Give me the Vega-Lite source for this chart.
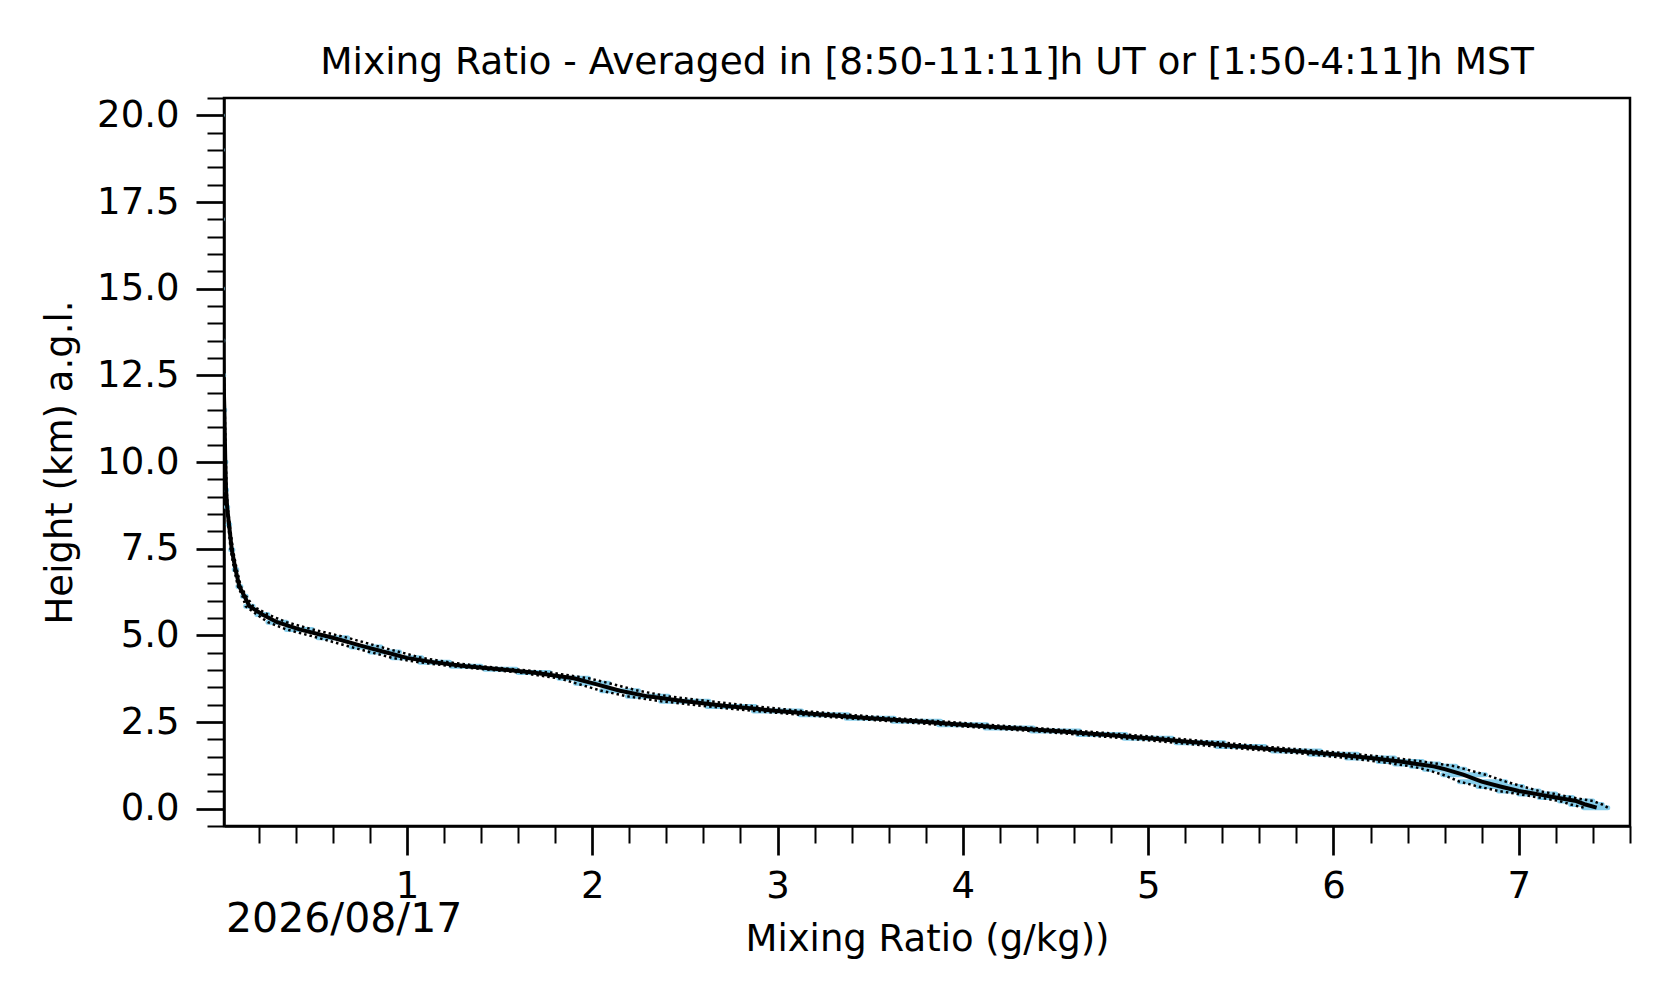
{
  "$schema": "https://vega.github.io/schema/vega-lite/v6.json",
  "description": "Mixing ratio profile averaged over the night, with its spread.",
  "autosize": {"type": "none"},
  "width": 1406,
  "height": 728,
  "padding": {"left": 224, "top": 98, "right": 46, "bottom": 177},
  "background": "white",
  "title": {
    "text": "Mixing Ratio - Averaged in [8:50-11:11]h UT or [1:50-4:11]h MST",
    "font": "DejaVu Sans",
    "fontSize": 37.5,
    "fontWeight": "normal",
    "color": "black",
    "anchor": "middle",
    "offset": -2
  },
  "data": {
    "values": [
      {"h": 0.03, "m": 7.42, "lo": 7.35, "hi": 7.48},
      {"h": 0.12, "m": 7.36, "lo": 7.28, "hi": 7.45},
      {"h": 0.22, "m": 7.31, "lo": 7.22, "hi": 7.40},
      {"h": 0.32, "m": 7.20, "lo": 7.11, "hi": 7.29},
      {"h": 0.42, "m": 7.10, "lo": 7.00, "hi": 7.20},
      {"h": 0.51, "m": 7.00, "lo": 6.89, "hi": 7.11},
      {"h": 0.64, "m": 6.90, "lo": 6.78, "hi": 7.02},
      {"h": 0.78, "m": 6.80, "lo": 6.68, "hi": 6.93},
      {"h": 0.98, "m": 6.70, "lo": 6.59, "hi": 6.82},
      {"h": 1.14, "m": 6.60, "lo": 6.49, "hi": 6.71},
      {"h": 1.22, "m": 6.54, "lo": 6.42, "hi": 6.66},
      {"h": 1.29, "m": 6.45, "lo": 6.33, "hi": 6.57},
      {"h": 1.36, "m": 6.36, "lo": 6.24, "hi": 6.48},
      {"h": 1.46, "m": 6.20, "lo": 6.07, "hi": 6.33},
      {"h": 1.57, "m": 6.00, "lo": 5.87, "hi": 6.13},
      {"h": 1.66, "m": 5.80, "lo": 5.67, "hi": 5.93},
      {"h": 1.79, "m": 5.50, "lo": 5.37, "hi": 5.63},
      {"h": 1.90, "m": 5.28, "lo": 5.15, "hi": 5.41},
      {"h": 2.03, "m": 5.00, "lo": 4.87, "hi": 5.13},
      {"h": 2.14, "m": 4.75, "lo": 4.62, "hi": 4.88},
      {"h": 2.24, "m": 4.50, "lo": 4.37, "hi": 4.63},
      {"h": 2.33, "m": 4.25, "lo": 4.12, "hi": 4.38},
      {"h": 2.42, "m": 4.00, "lo": 3.87, "hi": 4.13},
      {"h": 2.52, "m": 3.75, "lo": 3.62, "hi": 3.88},
      {"h": 2.61, "m": 3.50, "lo": 3.37, "hi": 3.63},
      {"h": 2.71, "m": 3.25, "lo": 3.12, "hi": 3.38},
      {"h": 2.82, "m": 3.00, "lo": 2.87, "hi": 3.13},
      {"h": 2.95, "m": 2.75, "lo": 2.62, "hi": 2.88},
      {"h": 3.10, "m": 2.50, "lo": 2.37, "hi": 2.63},
      {"h": 3.24, "m": 2.30, "lo": 2.19, "hi": 2.41},
      {"h": 3.40, "m": 2.15, "lo": 2.05, "hi": 2.25},
      {"h": 3.62, "m": 2.00, "lo": 1.91, "hi": 2.09},
      {"h": 3.76, "m": 1.90, "lo": 1.82, "hi": 1.98},
      {"h": 3.93, "m": 1.68, "lo": 1.60, "hi": 1.77},
      {"h": 4.02, "m": 1.50, "lo": 1.42, "hi": 1.59},
      {"h": 4.11, "m": 1.32, "lo": 1.24, "hi": 1.40},
      {"h": 4.22, "m": 1.15, "lo": 1.07, "hi": 1.23},
      {"h": 4.35, "m": 1.00, "lo": 0.92, "hi": 1.08},
      {"h": 4.52, "m": 0.88, "lo": 0.80, "hi": 0.96},
      {"h": 4.66, "m": 0.78, "lo": 0.70, "hi": 0.86},
      {"h": 4.93, "m": 0.60, "lo": 0.52, "hi": 0.68},
      {"h": 5.17, "m": 0.42, "lo": 0.35, "hi": 0.49},
      {"h": 5.38, "m": 0.30, "lo": 0.25, "hi": 0.35},
      {"h": 5.60, "m": 0.22, "lo": 0.19, "hi": 0.25},
      {"h": 5.84, "m": 0.15, "lo": 0.13, "hi": 0.17},
      {"h": 6.13, "m": 0.123, "lo": 0.113, "hi": 0.133},
      {"h": 6.41, "m": 0.096, "lo": 0.088, "hi": 0.104},
      {"h": 6.90, "m": 0.075, "lo": 0.068, "hi": 0.082},
      {"h": 7.47, "m": 0.055, "lo": 0.049, "hi": 0.061},
      {"h": 8.2, "m": 0.040, "lo": 0.036, "hi": 0.044},
      {"h": 8.7, "m": 0.030, "lo": 0.027, "hi": 0.033},
      {"h": 9.2, "m": 0.024, "lo": 0.021, "hi": 0.027},
      {"h": 10.0, "m": 0.020, "lo": 0.017, "hi": 0.023},
      {"h": 11.5, "m": 0.015, "lo": 0.013, "hi": 0.017},
      {"h": 12.5, "m": 0.010, "lo": 0.008, "hi": 0.012},
      {"h": 13.5, "m": 0.006, "lo": 0.005, "hi": 0.007},
      {"h": 15.0, "m": 0.004, "lo": 0.003, "hi": 0.005},
      {"h": 17.0, "m": 0.003, "lo": 0.002, "hi": 0.004},
      {"h": 19.0, "m": 0.002, "lo": 0.001, "hi": 0.003},
      {"h": 20.0, "m": 0.002, "lo": 0.001, "hi": 0.003}
    ]
  },
  "encoding": {
    "y": {
      "field": "h",
      "type": "quantitative",
      "title": "Height (km) a.g.l.",
      "scale": {"domain": [-0.5, 20.5], "nice": false, "zero": false},
      "axis": {
        "values": [-0.5, 0, 0.5, 1, 1.5, 2, 2.5, 3, 3.5, 4, 4.5, 5, 5.5, 6, 6.5, 7, 7.5, 8, 8.5, 9, 9.5, 10, 10.5, 11, 11.5, 12, 12.5, 13, 13.5, 14, 14.5, 15, 15.5, 16, 16.5, 17, 17.5, 18, 18.5, 19, 19.5, 20, 20.5],
        "tickCount": 200,
        "labelExpr": "datum.value % 2.5 === 0 ? format(datum.value, '.1f') : ''",
        "tickSize": {"condition": {"test": "datum.value % 2.5 === 0", "value": 28}, "value": 17},
        "tickWidth": {"condition": {"test": "datum.value % 2.5 === 0", "value": 2.7}, "value": 2},
        "labelPadding": 17,
        "titlePadding": 17
      }
    }
  },
  "layer": [
    {
      "mark": {"type": "area", "orient": "horizontal", "color": "#87CEEB", "stroke": "#87CEEB", "strokeWidth": 5, "strokeJoin": "round", "clip": true},
      "encoding": {
        "x": {
          "field": "lo",
          "type": "quantitative",
          "title": "Mixing Ratio (g/kg))",
          "scale": {"domain": [0.013, 7.6], "nice": false, "zero": false},
          "axis": {
            "values": [0.2, 0.4, 0.6, 0.8, 1, 1.2, 1.4, 1.6, 1.8, 2, 2.2, 2.4, 2.6, 2.8, 3, 3.2, 3.4, 3.6, 3.8, 4, 4.2, 4.4, 4.6, 4.8, 5, 5.2, 5.4, 5.6, 5.8, 6, 6.2, 6.4, 6.6, 6.8, 7, 7.2, 7.4, 7.6],
            "tickCount": 200,
            "labelExpr": "datum.value % 1 === 0 ? format(datum.value, 'd') : ''",
            "tickSize": {"condition": {"test": "datum.value % 1 === 0", "value": 29}, "value": 17},
            "tickWidth": {"condition": {"test": "datum.value % 1 === 0", "value": 2.7}, "value": 2},
            "labelPadding": 13,
            "titlePadding": 17
          }
        },
        "x2": {"field": "hi"},
        "order": {"field": "h", "type": "quantitative"}
      }
    },
    {
      "mark": {"type": "line", "color": "black", "strokeWidth": 2.5, "strokeDash": [2.5, 3], "clip": true},
      "encoding": {
        "x": {"field": "lo", "type": "quantitative", "title": "Mixing Ratio (g/kg))"},
        "order": {"field": "h", "type": "quantitative"}
      }
    },
    {
      "mark": {"type": "line", "color": "black", "strokeWidth": 2.5, "strokeDash": [2.5, 3], "clip": true},
      "encoding": {
        "x": {"field": "hi", "type": "quantitative", "title": "Mixing Ratio (g/kg))"},
        "order": {"field": "h", "type": "quantitative"}
      }
    },
    {
      "mark": {"type": "line", "color": "black", "strokeWidth": 4, "clip": true},
      "encoding": {
        "x": {"field": "m", "type": "quantitative", "title": "Mixing Ratio (g/kg))"},
        "order": {"field": "h", "type": "quantitative"}
      }
    },
    {
      "data": {"values": [{"label": "2026/08/17", "px": 0.013, "py": -3.55}]},
      "mark": {"type": "text", "align": "left", "baseline": "alphabetic", "font": "DejaVu Sans", "fontSize": 41, "color": "black", "dx": 2, "clip": false},
      "encoding": {
        "x": {"field": "px", "type": "quantitative", "title": "Mixing Ratio (g/kg))"},
        "y": {"field": "py", "type": "quantitative", "title": "Height (km) a.g.l."},
        "text": {"field": "label"}
      }
    }
  ],
  "config": {
    "view": {"stroke": "black", "strokeWidth": 2.5},
    "axis": {
      "grid": false,
      "domainColor": "black",
      "domainWidth": 2.5,
      "tickColor": "black",
      "labelFont": "DejaVu Sans",
      "labelFontSize": 37,
      "labelColor": "black",
      "labelFlush": false,
      "labelBound": false,
      "labelOverlap": false,
      "titleFont": "DejaVu Sans",
      "titleFontSize": 37,
      "titleFontWeight": "normal",
      "titleColor": "black"
    }
  }
}
